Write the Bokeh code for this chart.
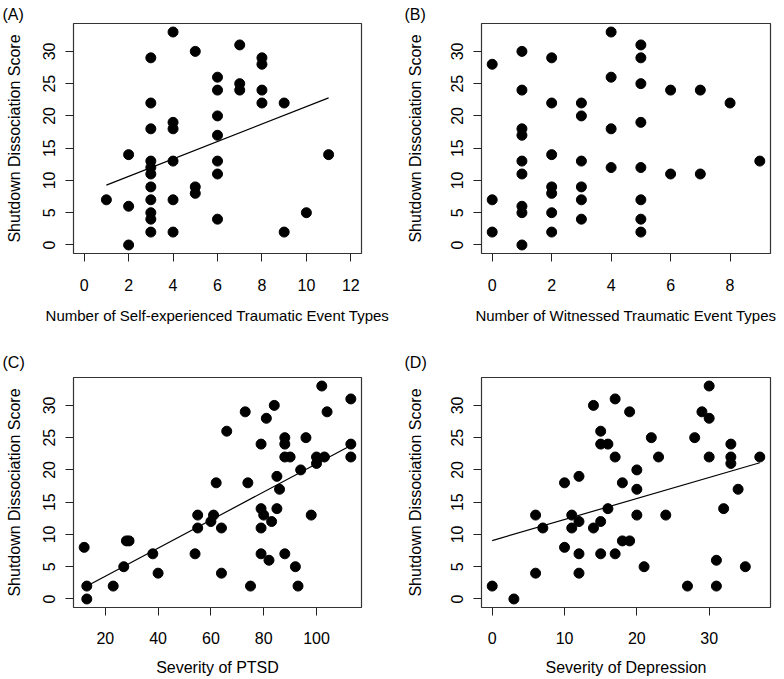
from bokeh.plotting import figure
from bokeh.models import Range1d, FixedTicker
from bokeh.layouts import column, row
from bokeh.embed import file_html
from bokeh.resources import INLINE

# ---------------- data ----------------
y_label = "Shutdown Dissociation Score"
y_lim = [0, 33]
y_ticks = [0, 5, 10, 15, 20, 25, 30]

# (A) self-experienced traumatic event types
a_x = [1, 2, 2, 2, 3, 3, 3, 3, 3, 3, 3, 3, 3, 3, 3, 4, 4, 4, 4, 4, 4, 5, 5, 5,
       6, 6, 6, 6, 6, 6, 6, 7, 7, 7, 8, 8, 8, 8, 9, 9, 10, 11]
a_y = [7, 14, 6, 0, 29, 22, 18, 13, 12, 11, 9, 7, 5, 4, 2, 33, 19, 18, 13, 7, 2, 30, 9, 8,
       26, 24, 20, 17, 13, 11, 4, 31, 25, 24, 29, 28, 24, 22, 22, 2, 5, 14]
a_xlim = [0, 12]
a_xticks = [0, 2, 4, 6, 8, 10, 12]
a_fit = [7.93, 1.352]  # intercept, slope
a_xlabel = "Number of Self-experienced Traumatic Event Types"

# (B) witnessed traumatic event types
b_x = [0, 0, 0, 1, 1, 1, 1, 1, 1, 1, 1, 1, 2, 2, 2, 2, 2, 2, 2, 3, 3, 3, 3, 3, 3,
       4, 4, 4, 4, 5, 5, 5, 5, 5, 5, 5, 5, 6, 6, 7, 7, 8, 9]
b_y = [28, 7, 2, 30, 24, 18, 17, 13, 11, 6, 5, 0, 29, 22, 14, 9, 8, 5, 2, 22, 20, 13, 9, 7, 4,
       33, 26, 18, 12, 31, 29, 25, 19, 12, 7, 4, 2, 24, 11, 24, 11, 22, 13]
b_xlim = [0, 9]
b_xticks = [0, 2, 4, 6, 8]
b_xlabel = "Number of Witnessed Traumatic Event Types"

# (C) severity of PTSD
c_x = [12, 13, 13, 23, 27, 28, 29, 38, 40, 54, 55, 55, 60, 61, 62, 64, 64, 66, 73, 74, 75,
       79, 79, 79, 79, 80, 81, 82, 83, 84, 85, 85, 86, 88, 88, 88, 88, 90, 92, 93, 94, 96,
       98, 100, 100, 102, 103, 104, 113, 113, 113]
c_y = [8, 2, 0, 2, 5, 9, 9, 7, 4, 7, 13, 11, 12, 13, 18, 11, 4, 26, 29, 18, 2,
       24, 14, 11, 7, 13, 28, 6, 12, 30, 19, 14, 17, 25, 24, 22, 7, 22, 5, 2, 20, 25,
       13, 22, 21, 33, 22, 29, 31, 24, 22]
c_xlim = [12, 113]
c_xticks = [20, 40, 60, 80, 100]
c_fit = [-0.85, 0.218]
c_xlabel = "Severity of PTSD"

# (D) severity of depression
d_x = [0, 3, 6, 6, 7, 10, 10, 11, 11, 12, 12, 12, 12, 14, 14, 15, 15, 15, 15, 16, 16,
       17, 17, 17, 18, 18, 19, 19, 20, 20, 20, 21, 22, 23, 24, 27, 28, 29, 30, 30, 30,
       31, 31, 32, 33, 33, 33, 34, 35, 37]
d_y = [2, 0, 13, 4, 11, 18, 8, 13, 11, 19, 12, 7, 4, 30, 11, 26, 24, 12, 7, 24, 14,
       31, 22, 7, 18, 9, 29, 9, 20, 17, 13, 5, 25, 22, 13, 2, 25, 29, 33, 28, 22,
       6, 2, 14, 24, 22, 21, 17, 5, 22]
d_xlim = [0, 37]
d_xticks = [0, 10, 20, 30]
d_fit = [9.05, 0.326]
d_xlabel = "Severity of Depression"

FONT = "Liberation Sans"
FS = "16px"
INK = "#222222"


def ext(lim):
    pad = 0.04 * (lim[1] - lim[0])
    return Range1d(lim[0] - pad, lim[1] + pad)


def panel(tag, x, y, xlim, xticks, xlabel, fit, w, h, bl, br, bt, bb,
          ylab_so, yax_so, xlab_so, xax_so, tag_dx, tag_so, xlab_fs):
    p = figure(width=w, height=h, output_backend="svg", toolbar_location=None,
               x_range=ext(xlim), y_range=ext(y_lim),
               min_border_left=bl, min_border_right=br,
               min_border_top=bt, min_border_bottom=bb)
    p.xgrid.visible = False
    p.ygrid.visible = False
    p.outline_line_color = "#333333"
    p.outline_line_width = 1.2
    p.background_fill_color = "white"
    p.border_fill_color = "white"

    p.title.text = tag
    p.title.align = "left"
    p.title.offset = tag_dx
    p.title.standoff = tag_so
    p.title.text_font = FONT
    p.title.text_font_size = FS
    p.title.text_font_style = "normal"
    p.title.text_color = "black"

    for ax, ticks in ((p.xaxis[0], xticks), (p.yaxis[0], y_ticks)):
        ax.ticker = FixedTicker(ticks=ticks, minor_ticks=[])
        ax.axis_line_color = None
        ax.major_tick_line_color = INK
        ax.major_tick_line_width = 1
        ax.major_tick_in = 0
        ax.major_tick_out = 8
        ax.minor_tick_line_color = None
        ax.major_label_text_font = FONT
        ax.major_label_text_font_size = FS
        ax.major_label_text_color = "black"
        ax.axis_label_text_font = FONT
        ax.axis_label_text_font_size = FS
        ax.axis_label_text_font_style = "normal"
        ax.axis_label_text_color = "black"

    p.xaxis.axis_label = xlabel
    p.xaxis.axis_label_text_font_size = xlab_fs
    p.yaxis.axis_label = y_label
    p.yaxis.major_label_orientation = "vertical"
    p.yaxis.major_label_standoff = ylab_so
    p.yaxis.axis_label_standoff = yax_so
    p.xaxis.major_label_standoff = xlab_so
    p.xaxis.axis_label_standoff = xax_so

    p.scatter(x, y, size=10, color="black")
    if fit is not None:
        fx = [min(x), max(x)]
        fy = [fit[0] + fit[1] * v for v in fx]
        p.line(fx, fy, line_color="black", line_width=1.2)
    return p


pA = panel("(A)", a_x, a_y, a_xlim, a_xticks, a_xlabel, a_fit, 392, 340, 73, 31, 23, 87,
           10, 18, 17, 13, -71, 2, "15px")
pB = panel("(B)", b_x, b_y, b_xlim, b_xticks, b_xlabel, None, 392, 340, 89, 14, 23, 87,
           10, 25, 17, 13, -77, 2, "15px")
pC = panel("(C)", c_x, c_y, c_xlim, c_xticks, c_xlabel, c_fit, 392, 339, 73, 31, 37, 72,
           10, 18, 16, 12, -71, 14, FS)
pD = panel("(D)", d_x, d_y, d_xlim, d_xticks, d_xlabel, d_fit, 392, 339, 89, 14, 37, 72,
           10, 25, 16, 12, -77, 14, FS)

layout = column(row(pA, pB), row(pC, pD))
open("out.html", "w").write(file_html(layout, INLINE))
